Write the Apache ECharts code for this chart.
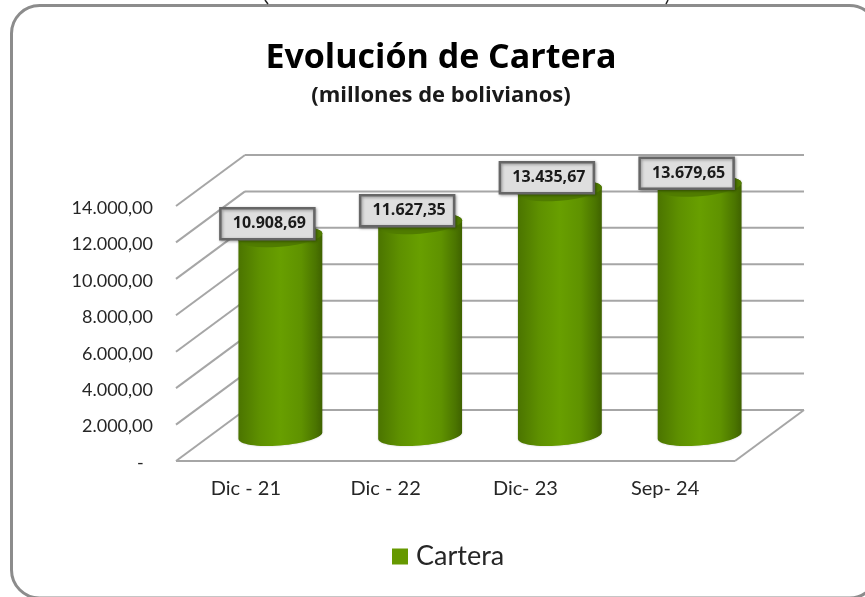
<!DOCTYPE html>
<html>
<head>
<meta charset="utf-8">
<style>
  html, body { margin: 0; padding: 0; background: #fff; }
  #chart { width: 865px; height: 597px; }
</style>
<script src="https://cdn.jsdelivr.net/npm/echarts@6/dist/echarts.min.js"></script>
</head>
<body>
<div id="chart"></div>
<script>
const categories = ['Dic - 21', 'Dic - 22', 'Dic- 23', 'Sep- 24'];
const cartera = [10908.69, 11627.35, 13435.67, 13679.65];
const yTicks = [0, 2000, 4000, 6000, 8000, 10000, 12000, 14000];

const FONT = 'Lato';
const FONT_BOLD = '"Open Sans"';
const DEPTH_X = 69;
const DEPTH_Y = -51;
const LINE = '#a6a6a6';

function fmt(v) {
  let parts = v.toFixed(2).split('.');
  return parts[0].replace(/\B(?=(\d{3})+$)/g, '.') + ',' + parts[1];
}

// half of a sheared ellipse, the picture's cylinders lean a little
function arc(cx, cy, rx, ry, from, to) {
  let pts = [];
  for (let i = 0; i <= 32; i++) {
    let t = from + (to - from) * i / 32;
    let dx = rx * Math.cos(t);
    pts.push([cx + dx, cy + ry * Math.sin(t) - 0.08 * dx]);
  }
  return pts;
}

function renderWall(params, api) {
  let sys = params.coordSys;
  let y = api.coord([0, api.value(1)])[1];
  let style = { stroke: LINE, lineWidth: 2, fill: null };
  let x0 = sys.x, x1 = sys.x + sys.width;
  let children = [
    { type: 'line', style: style, shape: { x1: x0, y1: y, x2: x0 + DEPTH_X, y2: y + DEPTH_Y } },
    { type: 'line', style: style, shape: { x1: x0 + DEPTH_X, y1: y + DEPTH_Y, x2: x1 + DEPTH_X, y2: y + DEPTH_Y } }
  ];
  if (api.value(1) === 0) {
    children.push({ type: 'line', style: style, shape: { x1: x0, y1: y, x2: x1, y2: y } });
    children.push({ type: 'line', style: style, shape: { x1: x1, y1: y, x2: x1 + DEPTH_X, y2: y + DEPTH_Y } });
  }
  return { type: 'group', children: children };
}

function renderBar(params, api) {
  let i = api.value(0);
  let top = api.coord([i, api.value(1)]);
  let base = api.coord([i, 0]);
  let cx = top[0] + DEPTH_X / 2;
  let yTop = top[1] + DEPTH_Y / 2;
  let yBase = base[1] + DEPTH_Y / 2;
  let rx = api.size([1, 0])[0] * 0.3;
  let ry = 10;
  let body = arc(cx, yBase, rx, ry, 0, Math.PI).concat(arc(cx, yTop, rx, ry, Math.PI, 2 * Math.PI));
  let boxW = 94, boxH = 31;
  let lx = cx - 13, ly = yTop - 13;
  return {
    type: 'group',
    children: [
      {
        type: 'polygon',
        shape: { points: body },
        style: {
          fill: new echarts.graphic.LinearGradient(0, 0, 1, 0, [
            { offset: 0, color: '#4b7400' },
            { offset: 0.25, color: '#5e9000' },
            { offset: 0.5, color: '#689f00' },
            { offset: 0.75, color: '#5f9200' },
            { offset: 0.92, color: '#4b7500' },
            { offset: 1, color: '#3f6200' }
          ]),
          shadowBlur: 2,
          shadowColor: 'rgba(0,0,0,0.2)'
        }
      },
      {
        type: 'polygon',
        shape: { points: arc(cx, yTop, rx, ry, 0, 2 * Math.PI) },
        style: { fill: '#507c00' }
      },
      {
        type: 'rect',
        shape: { x: lx - boxW / 2, y: ly - boxH / 2, width: boxW, height: boxH },
        style: {
          fill: '#dedede', stroke: '#666666', lineWidth: 2.5,
          shadowBlur: 3, shadowOffsetX: 1, shadowOffsetY: 1, shadowColor: 'rgba(0,0,0,0.35)'
        }
      },
      {
        type: 'text',
        x: lx + 2,
        y: ly,
        style: {
          text: fmt(api.value(1)), fill: '#1a1a1a', align: 'center', verticalAlign: 'middle',
          font: 'bold 16px ' + FONT_BOLD
        }
      }
    ]
  };
}

let myChart = echarts.init(document.getElementById('chart'), null, { renderer: 'canvas' });
let option = {
  backgroundColor: '#fff',
  animation: false,
  title: {
    text: 'Evolución de Cartera',
    subtext: '(millones de bolivianos)',
    left: 436,
    top: 36,
    textAlign: 'center',
    itemGap: 10,
    textStyle: { fontFamily: FONT_BOLD, fontWeight: 'bold', fontSize: 34, color: '#000' },
    subtextStyle: { fontFamily: FONT_BOLD, fontWeight: 'bold', fontSize: 22, color: '#1a1a1a' }
  },
  legend: {
    data: [{ name: 'Cartera', icon: 'rect', itemStyle: { color: '#669900' } }],
    left: 387,
    top: 538,
    itemWidth: 16,
    itemHeight: 16,
    textStyle: { fontFamily: FONT, fontSize: 27, color: '#262626', padding: [0, 0, 0, 3] }
  },
  grid: { left: 176, top: 206, width: 559, height: 255 },
  xAxis: {
    type: 'category',
    data: categories,
    axisLine: { show: false },
    axisTick: { show: false },
    axisLabel: { margin: 18, fontFamily: FONT, fontSize: 20, color: '#262626' }
  },
  yAxis: {
    type: 'value',
    min: 0,
    max: 14000,
    interval: 2000,
    axisLine: { show: false },
    axisTick: { show: false },
    splitLine: { show: false },
    axisLabel: {
      margin: 23,
      fontFamily: FONT,
      fontSize: 18,
      color: '#262626',
      verticalAlign: 'top',
      lineHeight: 4,
      formatter: function (v) { return v === 0 ? '-  ' : fmt(v); }
    }
  },
  graphic: [
    {
      type: 'rect',
      z: -1,
      shape: { x: 11.5, y: 5.5, width: 866, height: 592.5, r: 28 },
      style: { fill: '#fff', stroke: '#8c8c8c', lineWidth: 3 }
    },
    // tips of a cut off line of text above the frame
    { type: 'line', shape: { x1: 265, y1: 0, x2: 268, y2: 4 }, style: { stroke: '#222', lineWidth: 1.5 } },
    { type: 'line', shape: { x1: 666, y1: 4, x2: 668, y2: 0 }, style: { stroke: '#222', lineWidth: 1.5 } }
  ],
  series: [
    {
      name: 'wall',
      type: 'custom',
      clip: false,
      silent: true,
      z: 1,
      encode: { x: 0, y: 1 },
      data: yTicks.map(function (v) { return [0, v]; }),
      renderItem: renderWall
    },
    {
      name: 'Cartera',
      type: 'custom',
      clip: false,
      z: 2,
      itemStyle: { color: '#669900' },
      encode: { x: 0, y: 1 },
      data: cartera.map(function (v, i) { return [i, v]; }),
      renderItem: renderBar
    }
  ]
};
myChart.setOption(option);
</script>
</body>
</html>
